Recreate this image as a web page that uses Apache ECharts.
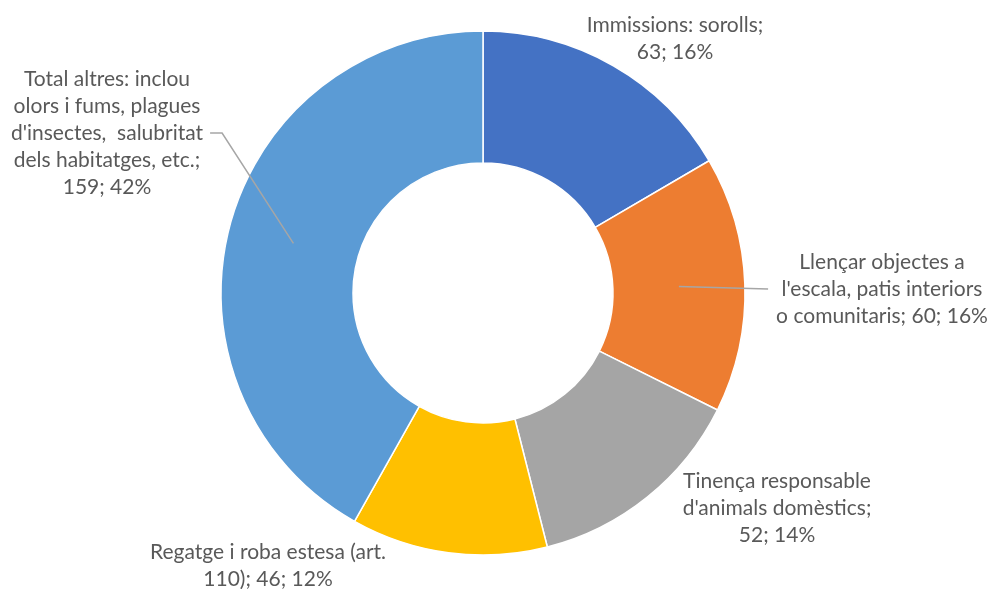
<!DOCTYPE html>
<html>
<head>
<meta charset="utf-8">
<script src="https://cdn.jsdelivr.net/npm/echarts@6/dist/echarts.min.js"></script>
<style>
html,body{margin:0;padding:0;background:#fff;}
#chart{width:989px;height:589px;}
</style>
</head>
<body>
<div id="chart"></div>
<script>
// ---- data ----
var categories = [
  "Immissions: sorolls",
  "Llençar objectes a l'escala, patis interiors o comunitaris",
  "Tinença responsable d'animals domèstics",
  "Regatge i roba estesa (art. 110)",
  "Total altres: inclou olors i fums, plagues d'insectes,  salubritat dels habitatges, etc."
];
var values = [63, 60, 52, 46, 159];
var percents = ["16%", "16%", "14%", "12%", "42%"];
// wrapped label text (as printed) and separator before the numbers
var labelNames = [
  "Immissions: sorolls",
  "Llençar objectes a\nl'escala, patis interiors\no comunitaris",
  "Tinença responsable\nd'animals domèstics",
  "Regatge i roba estesa (art.\n110)",
  "Total altres: inclou\nolors i fums, plagues\nd'insectes,  salubritat\ndels habitatges, etc."
];
var labelSeps = [";\n", "; ", ";\n", "; ", ";\n"];
var colors = ["#4472C4", "#ED7D31", "#A5A5A5", "#FFC000", "#5B9BD5"];

// ---- layout ----
var CX = 483, CY = 293, R_IN = 130, R_OUT = 262;
var labelPos = [[675, 39], [882, 289], [777, 508], [268, 566], [107, 133]];
var withLine = [false, true, false, false, true];

var total = values.reduce(function (a, b) { return a + b; }, 0);
function midPoint(i, r) {
  var cum = 0;
  for (var k = 0; k < i; k++) cum += values[k];
  var th = (cum + values[i] / 2) / total * Math.PI * 2;
  return [CX + r * Math.sin(th), CY - r * Math.cos(th)];
}

var chart = echarts.init(document.getElementById('chart'), null, {renderer: 'canvas'});
var sliceData = categories.map(function (c, i) {
  return {name: c, value: values[i], itemStyle: {color: colors[i]}};
});
var labelData = categories.map(function (c, i) {
  return {name: c, value: values[i], labelLine: {show: withLine[i]}};
});

chart.setOption({
  animation: false,
  series: [{
    type: 'pie',
    z: 2,
    center: [CX, CY],
    radius: [R_IN, R_OUT],
    startAngle: 90,
    clockwise: true,
    silent: true,
    label: {show: false},
    labelLine: {show: false},
    itemStyle: {borderColor: '#ffffff', borderWidth: 1.5},
    data: sliceData
  }, {
    type: 'pie',
    z: 5,
    center: [CX, CY],
    radius: [R_IN, R_OUT],
    startAngle: 90,
    clockwise: true,
    silent: true,
    avoidLabelOverlap: false,
    itemStyle: {color: 'rgba(0,0,0,0)', borderWidth: 0},
    label: {
      show: true,
      position: 'outside',
      color: '#595959',
      fontFamily: 'Lato',
      fontSize: 21,
      lineHeight: 27,
      align: 'center',
      formatter: function (p) {
        var i = p.dataIndex;
        return labelNames[i] + labelSeps[i] + values[i] + '; ' + percents[i];
      }
    },
    labelLine: {
      lineStyle: {color: '#A6A6A6', width: 1.5},
      smooth: false
    },
    labelLayout: function (p) {
      var i = p.dataIndex;
      var pos = labelPos[i];
      var out = {x: pos[0], y: pos[1], align: 'center', verticalAlign: 'middle'};
      var w = p.labelRect.width;
      var start = midPoint(i, (R_IN + R_OUT) / 2);
      if (i === 1) {
        var ex = pos[0] - w / 2 - 8;
        out.labelLinePoints = [start, [(start[0] + ex) / 2, (start[1] + pos[1]) / 2], [ex, pos[1]]];
      } else if (i === 4) {
        var rx = pos[0] + w / 2 + 7;
        out.labelLinePoints = [start, [rx + 12, pos[1]], [rx, pos[1]]];
      }
      return out;
    },
    data: labelData
  }]
});
</script>
</body>
</html>
